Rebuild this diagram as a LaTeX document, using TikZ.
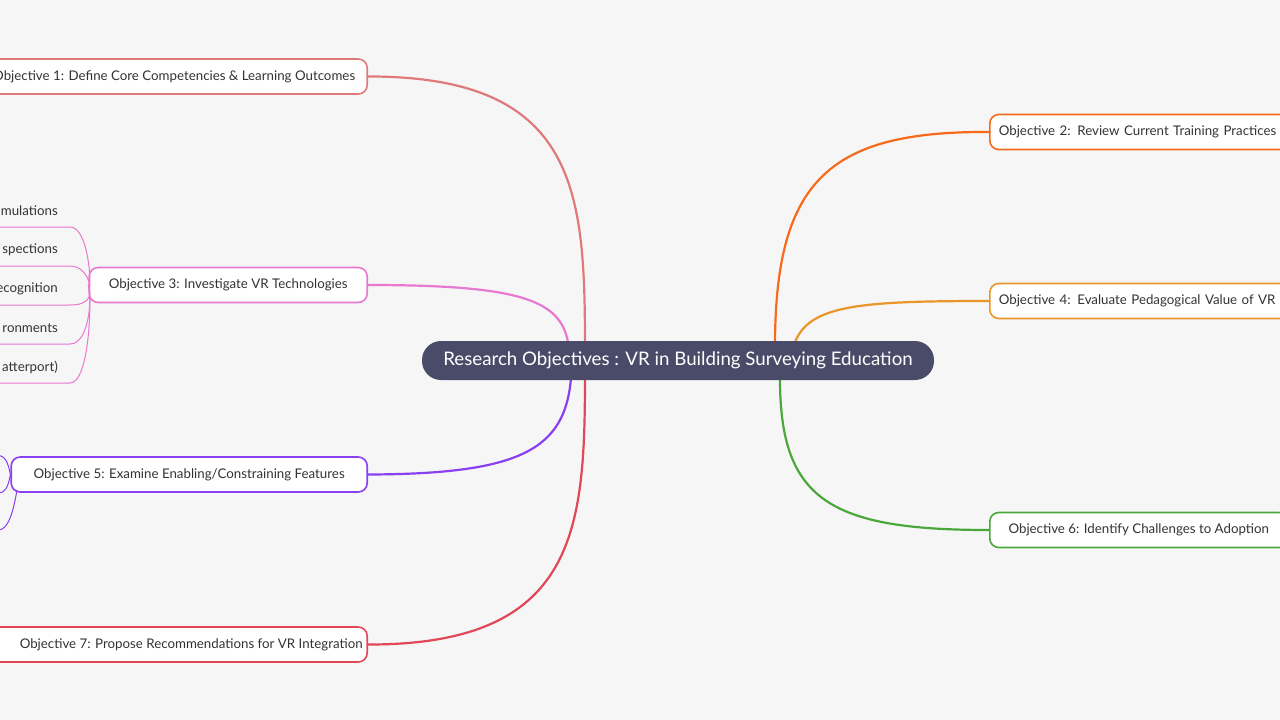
\documentclass[tikz,border=0pt]{standalone}
\usepackage{fontspec}
\setmainfont{Lato}
\definecolor{bg}{HTML}{F6F6F6}
\definecolor{cen}{HTML}{4A4B68}
\definecolor{cA}{HTML}{E07A7A}
\definecolor{cB}{HTML}{E878D0}
\definecolor{cC}{HTML}{8A3FF0}
\definecolor{cD}{HTML}{E04858}
\definecolor{cE}{HTML}{F86A1A}
\definecolor{cF}{HTML}{E8962A}
\definecolor{cG}{HTML}{4AA83A}
\definecolor{tx}{HTML}{333333}
\begin{document}
\begin{tikzpicture}[x=1pt,y=-1pt,
  obj/.style={draw=#1,line width=1.6pt,fill=white,rounded corners=9pt,minimum height=35pt,inner xsep=0pt,font=\fontsize{13.3}{15}\selectfont,text=tx},
  br/.style={draw=#1,line width=2.2pt},
  sub/.style={draw=#1,line width=1pt},
  lf/.style={font=\fontsize{13.3}{15}\selectfont,text=tx,anchor=east,inner sep=0pt}]
\fill[bg] (0,0) rectangle (1280,720);
\useasboundingbox (0,0) rectangle (1280,720);
\clip (0,0) rectangle (1280,720);
% branches
\draw[br=cA] (368,76.5) .. controls (585,76) and (585,200) .. (585,361);
\draw[br=cD] (368,644.5) .. controls (585,645) and (585,520) .. (585,361);
\draw[br=cB] (368,285) .. controls (520,285) and (560,300) .. (568,342);
\draw[br=cC] (368,474.5) .. controls (520,474) and (565,450) .. (571,378);
\draw[br=cE] (989,132) .. controls (830,131) and (776,180) .. (775,342);
\draw[br=cF] (989,301) .. controls (860,301) and (810,305) .. (795,342);
\draw[br=cG] (989,530) .. controls (830,530) and (780,500) .. (780,379);
% left nodes
\node[obj=cA,anchor=east,minimum width=400pt] (o1) at (368,76.5) {\hspace{14pt}Objective 1: Define Core Competencies \& Learning Outcomes};
\node[obj=cB,anchor=east,minimum width=278pt] (o3) at (368,285) {Objective 3: Investigate VR Technologies};
\node[obj=cC,anchor=east,minimum width=356pt] (o5) at (368,474.5) {Objective 5: Examine Enabling/Constraining Features};
\node[obj=cD,anchor=east,minimum width=400pt] (o7) at (368,644.5) {\hspace{48pt}Objective 7: Propose Recommendations for VR Integration};
% right nodes
\node[obj=cE,anchor=west,minimum width=310pt,text width=292pt,align=left] (o2) at (989,132) {Objective 2: Review Current Training Practices};
\node[obj=cF,anchor=west,minimum width=310pt,text width=292pt,align=left] (o4) at (989,301) {Objective 4: Evaluate Pedagogical Value of VR};
\node[obj=cG,anchor=west,minimum width=298pt] (o6) at (989,530) {Objective 6: Identify Challenges to Adoption};
% center
\node[fill=cen,rounded corners=19pt,minimum width=512pt,minimum height=39pt,text=white,font=\fontsize{18.7}{21}\selectfont] (c) at (678,360.5) {Research Objectives : VR in Building Surveying Education};
% obj3 subtopics
\foreach \n/\t/\y in {s1/mulations/211,s2/spections/250,s3/ecognition/289,s4/ronments/328,s5/atterport)/367}
  \node[lf] (\n) at (58,\y) {\t};
\foreach \y in {227,266,305,344,383}
  \draw[sub=cB] (-5,\y) -- (70,\y) .. controls (90,\y) and (92,295) .. (o3.west);
% obj5 subtopics
\draw[sub=cC] (o5.west) .. controls (8,462) and (5,456) .. (-2,455);
\draw[sub=cC] (o5.west) .. controls (8,488) and (5,493) .. (-2,493);
\draw[sub=cC] (17,490) .. controls (12,520) and (6,530) .. (-2,530);
\end{tikzpicture}
\end{document}
